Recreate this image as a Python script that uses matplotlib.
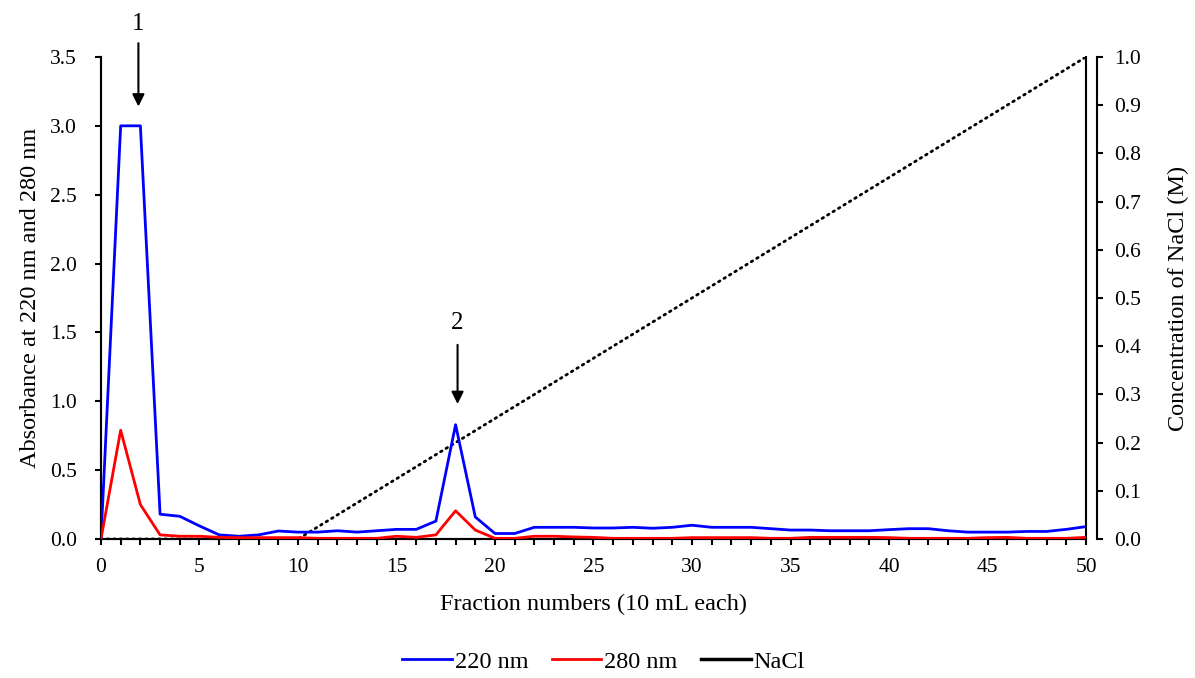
import matplotlib.pyplot as plt
from matplotlib.lines import Line2D
from matplotlib.ticker import MultipleLocator, FormatStrFormatter

plt.rcParams['font.family'] = ['Liberation Serif', 'DejaVu Serif']

TICK_SIZE = 15.5
LABEL_SIZE = 17.5

# fraction numbers
fractions = list(range(0, 51))

# absorbance at 220 nm
a220 = [0.0, 3.0, 3.0, 0.18, 0.165, 0.095, 0.03, 0.02, 0.03, 0.058, 0.05,
        0.05, 0.06, 0.05, 0.06, 0.07, 0.07, 0.13, 0.83, 0.16, 0.04,
        0.04, 0.085, 0.085, 0.085, 0.08, 0.08, 0.085, 0.078, 0.085, 0.10,
        0.085, 0.085, 0.085, 0.075, 0.065, 0.065, 0.06, 0.06, 0.06, 0.068,
        0.075, 0.075, 0.06, 0.05, 0.05, 0.05, 0.055, 0.055, 0.07, 0.09]

# absorbance at 280 nm
a280 = [0.0, 0.79, 0.25, 0.03, 0.02, 0.02, 0.012, 0.01, 0.01, 0.01, 0.01,
        0.005, 0.005, 0.005, 0.005, 0.02, 0.012, 0.03, 0.205, 0.065, 0.005,
        0.005, 0.02, 0.02, 0.015, 0.012, 0.005, 0.005, 0.005, 0.005, 0.01,
        0.01, 0.01, 0.01, 0.005, 0.005, 0.012, 0.012, 0.012, 0.012, 0.01,
        0.005, 0.005, 0.005, 0.005, 0.01, 0.012, 0.005, 0.005, 0.005, 0.012]

# NaCl gradient (M)
nacl = [0.0, 0.0, 0.0, 0.0, 0.0, 0.0, 0.0, 0.0, 0.0, 0.0, 0.0,
        0.025, 0.05, 0.075, 0.1, 0.125, 0.15, 0.175, 0.2, 0.225, 0.25,
        0.275, 0.3, 0.325, 0.35, 0.375, 0.4, 0.425, 0.45, 0.475, 0.5,
        0.525, 0.55, 0.575, 0.6, 0.625, 0.65, 0.675, 0.7, 0.725, 0.75,
        0.775, 0.8, 0.825, 0.85, 0.875, 0.9, 0.925, 0.95, 0.975, 1.0]

# peak labels
peak_labels = ['1', '2']
peak_x = [1.9, 18.1]
peak_tip = [3.12, 0.96]
peak_tail = [3.62, 1.43]
peak_text = [3.74, 1.57]

fig = plt.figure(figsize=(11.95, 6.78), dpi=100)
ax = fig.add_axes([0.0845, 0.205, 0.8243, 0.711])
ax2 = ax.twinx()

ax.plot(fractions, a220, color='#0000ff', lw=2.0, zorder=3)
ax.plot(fractions, a280, color='#ff0000', lw=2.0, zorder=3)
ax2.plot(fractions, nacl, color='black', lw=2.0, linestyle=(0, (0.6, 1.7)),
         dash_capstyle='round')
ax2.plot(fractions[:11], nacl[:11], color='black', lw=2.0)

ax.set_xlim(0, 50)
ax.set_ylim(0, 3.5)
ax2.set_ylim(0, 1.0)

ax.xaxis.set_major_locator(MultipleLocator(5))
ax.xaxis.set_minor_locator(MultipleLocator(1))
ax.yaxis.set_major_locator(MultipleLocator(0.5))
ax.yaxis.set_major_formatter(FormatStrFormatter('%.1f'))
ax2.yaxis.set_major_locator(MultipleLocator(0.1))
ax2.yaxis.set_major_formatter(FormatStrFormatter('%.1f'))

for a in (ax, ax2):
    a.spines['top'].set_visible(False)
    for s in a.spines.values():
        s.set_linewidth(1.5)
    a.tick_params(which='both', direction='out', width=1.5, labelsize=TICK_SIZE,
                  length=4.5)
ax2.spines['right'].set_position(('axes', 1.011))
ax.tick_params(axis='x', pad=9)
ax.tick_params(axis='y', pad=13)
ax2.tick_params(axis='y', pad=8)

ax.set_xlabel('Fraction numbers (10 mL each)', fontsize=LABEL_SIZE, labelpad=12)
ax.set_ylabel('Absorbance at 220 nm and 280 nm', fontsize=LABEL_SIZE, labelpad=6)
ax2.set_ylabel('Concentration of NaCl (M)', fontsize=LABEL_SIZE, labelpad=19)

ax.set_zorder(ax2.get_zorder() + 1)
ax.patch.set_visible(False)

for lab, x, tip, tail, txt in zip(peak_labels, peak_x, peak_tip, peak_tail, peak_text):
    ax.annotate('', xy=(x, tip), xytext=(x, tail),
                arrowprops=dict(arrowstyle='-|>', color='black', lw=1.5,
                                mutation_scale=18), annotation_clip=False)
    ax.text(x, txt, lab, ha='center', va='center', fontsize=18, clip_on=False)

handles = [Line2D([], [], color='#0000ff', lw=2.0),
           Line2D([], [], color='#ff0000', lw=2.0),
           Line2D([], [], color='black', lw=2.5)]
fig.legend(handles, ['220 nm', '280 nm', 'NaCl'], loc='center',
           bbox_to_anchor=(0.505, 0.024), ncol=3, frameon=False,
           fontsize=LABEL_SIZE, handlelength=2.05, handletextpad=0.12,
           columnspacing=0.95)

fig.savefig('out.png', dpi=100)
